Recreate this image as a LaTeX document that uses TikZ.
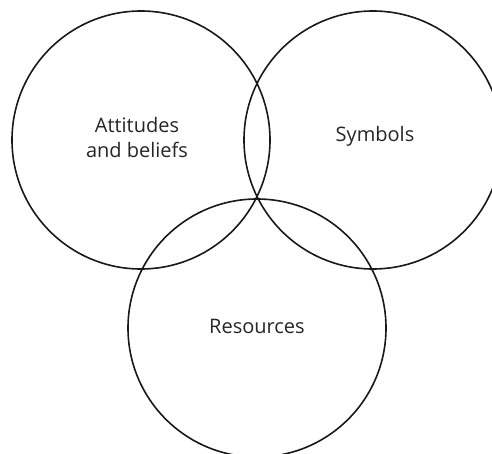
\documentclass[tikz,border=0pt]{standalone}
\usepackage{fontspec}
\setmainfont{Open Sans}
\begin{document}
\begin{tikzpicture}[x=1pt,y=-1pt,
  ring/.style={draw=black!90, line width=1.6pt, circle, minimum size=258pt, inner sep=0pt},
  label/.style={font=\fontsize{20}{25}\selectfont, text=black!85, align=center}]
  \useasboundingbox (0,0) rectangle (492,454);
  \begin{scope}
    \clip (0,0) rectangle (492,454);
    \node[ring] (att) at (141,140) {};
    \node[ring] (sym) at (373,140) {};
    \node[ring] (res) at (257,328) {};
  \end{scope}
  \node[label] (attl) at (137,138) {Attitudes\\and beliefs};
  \node[label] (syml) at (375,136) {Symbols};
  \node[label] (resl) at (257,326) {Resources};
\end{tikzpicture}
\end{document}
